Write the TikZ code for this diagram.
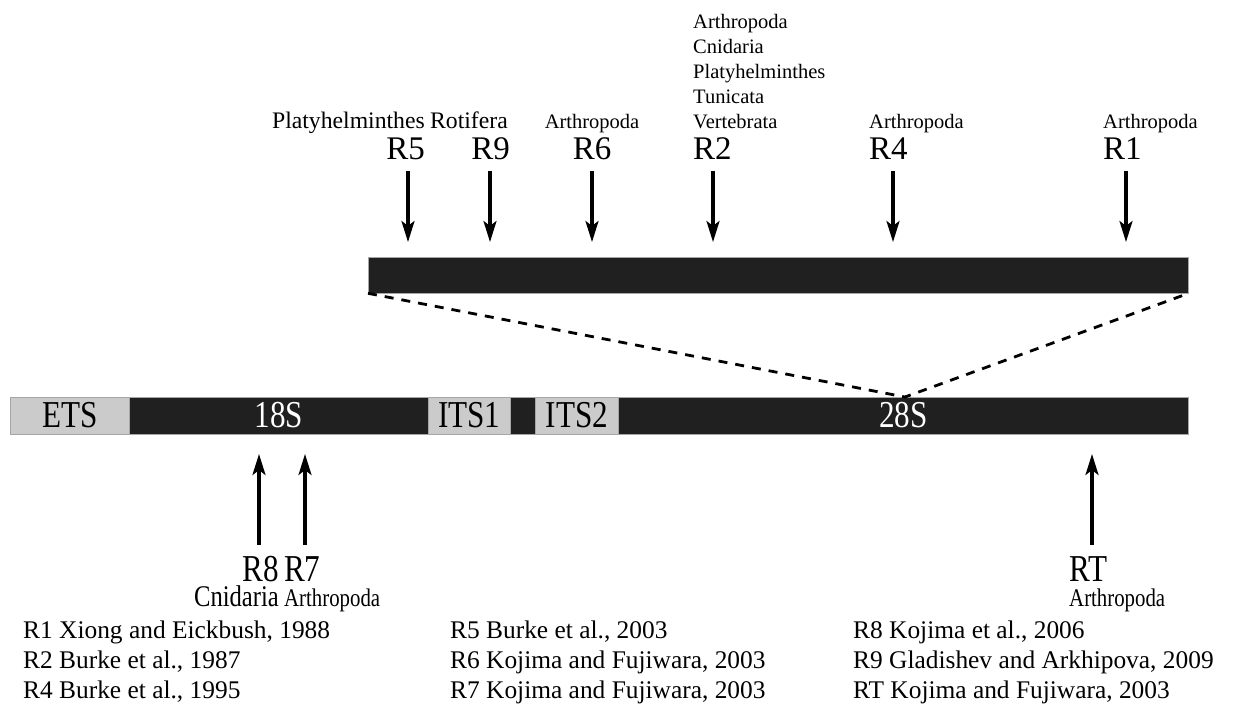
\documentclass[tikz,border=0pt]{standalone}
\usepackage{fontspec}
\setmainfont{Liberation Serif}
\newfontfamily\condfont[FakeStretch=0.82]{Liberation Serif}
\usetikzlibrary{arrows.meta}
\definecolor{barblack}{HTML}{202020}
\definecolor{bargrey}{HTML}{CBCBCB}
\tikzset{
  seg/.style={draw=gray!70, line width=0.6pt, minimum height=37pt, inner sep=0pt, anchor=west,
              font=\condfont\fontsize{38}{38}\selectfont},
  blackseg/.style={seg, fill=barblack, text=white},
  greyseg/.style={seg, fill=bargrey, text=black},
  rlab/.style={inner sep=0pt, font=\fontsize{33}{33}\selectfont},
  rlabB/.style={inner sep=0pt, font=\condfont\fontsize{38}{38}\selectfont},
  taxbig/.style={inner sep=0pt, font=\fontsize{23.7}{23.7}\selectfont},
  taxsmall/.style={inner sep=0pt, font=\fontsize{20.5}{20.5}\selectfont},
  taxB/.style={inner sep=0pt, font=\condfont\fontsize{30}{30}\selectfont},
  taxBs/.style={inner sep=0pt, font=\condfont\fontsize{25.4}{25.4}\selectfont},
  legend/.style={inner sep=0pt, anchor=base west, font=\fontsize{25.4}{25.4}\selectfont},
  arr/.style={line width=3.3pt, draw=black, -{Stealth[length=21pt,width=13pt,inset=5pt]}},
  dashline/.style={line width=2.8pt, dash pattern=on 9pt off 8pt}
}
\begin{document}
\begin{tikzpicture}[x=1pt,y=-1pt]
\useasboundingbox (0,0) rectangle (1250,713);

% ---- top expanded bar ----
\node[blackseg, minimum width=820pt, minimum height=36pt] (top) at (368,275) {};

% ---- rDNA unit ----
\node[greyseg,  minimum width=119pt] (ets)  at (10,415.5)  {ETS};
\node[blackseg, minimum width=299pt] (s18)  at (129,415.5) {18S};
\node[greyseg,  minimum width=82pt]  (its1) at (428,415.5) {ITS1};
\node[blackseg, minimum width=25pt]  (s58)  at (510,415.5) {};
\node[greyseg,  minimum width=83pt]  (its2) at (535,415.5) {ITS2};
\node[blackseg, minimum width=570pt] (s28)  at (618,415.5) {28S};

% ---- dashed zoom lines ----
\coordinate (apex) at (905,397);
\draw[dashline] (top.south west) -- (apex) -- (top.south east);

% ---- top labels ----
\node[rlab, anchor=base east] (R5) at (425,159) {R5};
\node[taxbig, anchor=base east] (t5) at (425,128) {Platyhelminthes};
\node[rlab, anchor=base east] (R9) at (510,159) {R9};
\node[taxbig, anchor=base east] (t9) at (508,128) {Rotifera};
\node[rlab, anchor=base] (R6) at (592,159) {R6};
\node[taxsmall, anchor=base] (t6) at (592,128) {Arthropoda};
\node[rlab, anchor=base west] (R2) at (693,159) {R2};
\node[taxsmall, anchor=base west] (t2e) at (693,128) {Vertebrata};
\node[taxsmall, anchor=base west] (t2d) at (693,103) {Tunicata};
\node[taxsmall, anchor=base west] (t2c) at (693,78) {Platyhelminthes};
\node[taxsmall, anchor=base west] (t2b) at (693,53) {Cnidaria};
\node[taxsmall, anchor=base west] (t2a) at (693,28) {Arthropoda};
\node[rlab, anchor=base west] (R4) at (869,159) {R4};
\node[taxsmall, anchor=base west] (t4) at (869,128) {Arthropoda};
\node[rlab, anchor=base west] (R1) at (1103,159) {R1};
\node[taxsmall, anchor=base west] (t1) at (1103,128) {Arthropoda};

% ---- top arrows ----
\foreach \n/\x in {5/408, 9/490, 6/592, 2/713, 4/893, 1/1126}{
  \coordinate (a\n s) at (\x,171);
  \coordinate (a\n e) at (\x,242);
  \draw[arr] (a\n s) -- (a\n e);
}

% ---- bottom labels ----
\node[rlabB, anchor=base east] (R8) at (279,581) {R8};
\node[rlabB, anchor=base west] (R7) at (284,581) {R7};
\node[taxB, anchor=base east] (t8) at (279,606) {Cnidaria};
\node[taxBs, anchor=base west] (t7) at (284,606) {Arthropoda};
\node[rlabB, anchor=base west] (RT) at (1069,581) {RT};
\node[taxBs, anchor=base west] (tT) at (1069,606) {Arthropoda};

% ---- bottom arrows ----
\foreach \n/\x in {8/259, 7/305, T/1092}{
  \coordinate (b\n s) at (\x,545);
  \coordinate (b\n e) at (\x,454);
  \draw[arr] (b\n s) -- (b\n e);
}

% ---- legend ----
\node[legend] (L1) at (23,638) {R1 Xiong and Eickbush, 1988};
\node[legend] (L2) at (23,668) {R2 Burke et al., 1987};
\node[legend] (L4) at (23,698) {R4 Burke et al., 1995};
\node[legend] (L5) at (450,638) {R5 Burke et al., 2003};
\node[legend] (L6) at (450,668) {R6 Kojima and Fujiwara, 2003};
\node[legend] (L7) at (450,698) {R7 Kojima and Fujiwara, 2003};
\node[legend] (L8) at (853,638) {R8 Kojima et al., 2006};
\node[legend] (L9) at (853,668) {R9 Gladishev and Arkhipova, 2009};
\node[legend] (LT) at (853,698) {RT Kojima and Fujiwara, 2003};
\end{tikzpicture}
\end{document}
